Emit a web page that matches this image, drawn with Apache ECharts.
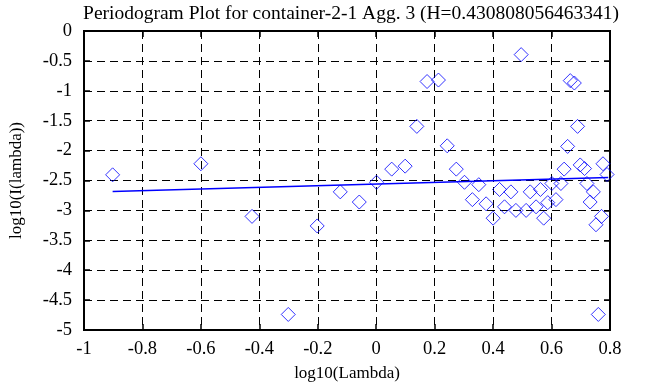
<!DOCTYPE html>
<html><head><meta charset="utf-8">
<script src="https://cdn.jsdelivr.net/npm/echarts@6/dist/echarts.min.js"></script>
<style>html,body{margin:0;padding:0;background:#fff}#c{width:668px;height:387px}</style>
</head><body><div id="c"></div>
<script>
const titleText = 'Periodogram Plot for container-2-1 Agg. 3 (H=0.430808056463341)';
const xName = 'log10(Lambda)';
const yName = 'log10(I(lambda))';
const xTicks = [-1, -0.8, -0.6, -0.4, -0.2, 0, 0.2, 0.4, 0.6, 0.8];
const yTicks = [0, -0.5, -1, -1.5, -2, -2.5, -3, -3.5, -4, -4.5, -5];
const logLambda = [-0.902,-0.600,-0.425,-0.301,-0.202,-0.123,-0.058,0.001,0.053,0.099,0.139,0.174,0.213,0.243,0.274,0.302,0.329,0.351,0.376,0.400,0.422,0.439,0.461,0.478,0.496,0.513,0.527,0.547,0.562,0.573,0.587,0.601,0.615,0.632,0.643,0.655,0.664,0.678,0.689,0.698,0.713,0.721,0.732,0.743,0.752,0.760,0.771,0.776,0.790];
const logI = [-2.405,-2.22,-3.1,-4.74,-3.26,-2.69,-2.86,-2.53,-2.31,-2.26,-1.595,-0.845,-0.82,-1.92,-2.31,-2.53,-2.82,-2.57,-2.89,-3.13,-2.65,-2.94,-2.69,-3.0,-0.395,-3.0,-2.69,-2.94,-2.65,-3.13,-2.87,-2.55,-2.82,-2.55,-2.31,-1.93,-0.83,-0.87,-1.595,-2.24,-2.30,-2.55,-2.86,-2.69,-3.24,-4.74,-3.1,-2.22,-2.40];
const fitX = [-0.902, 0.794];
const fitY = [-2.685, -2.450];

const font = 'Liberation Serif, Times New Roman, serif';
const chart = echarts.init(document.getElementById('c'));
const xAxisBase = {type:'value', min:-1, max:0.8, interval:0.2};
const yAxisBase = {type:'value', min:-5, max:0, interval:0.5};
const fmt = v => String(Math.round(v*10)/10);
const boxLine = {show:true, onZero:false, lineStyle:{color:'#000', width:2}};
const tick = {show:true, inside:true, length:6, lineStyle:{color:'#000', width:1.5}};
const grid = {show:true, lineStyle:{color:'#000', type:[8,5], width:1}};
chart.setOption({
  animation:false,
  backgroundColor:'#fff',
  title:{text:titleText, left:346, top:-1, textAlign:'center',
    textStyle:{fontFamily:font, fontSize:19.5, fontWeight:'normal', color:'#000'}},
  grid:{left:82, right:58, top:31, bottom:56, show:true, borderColor:'#000', borderWidth:2},
  xAxis:[
    Object.assign({}, xAxisBase, {position:'bottom', name:xName, nameLocation:'middle', nameGap:35,
      nameTextStyle:{fontFamily:font, fontSize:17, color:'#000'},
      axisLine:boxLine, axisTick:tick,
      axisLabel:{fontFamily:font, fontSize:18.5, color:'#000', margin:10, formatter:fmt},
      splitLine:grid}),
    Object.assign({}, xAxisBase, {position:'top', axisLine:boxLine, axisTick:tick,
      axisLabel:{show:false}, splitLine:{show:false}})
  ],
  yAxis:[
    Object.assign({}, yAxisBase, {position:'left', name:yName, nameLocation:'middle', nameGap:59,
      nameTextStyle:{fontFamily:font, fontSize:17, color:'#000'},
      axisLine:boxLine, axisTick:tick,
      axisLabel:{fontFamily:font, fontSize:18.5, color:'#000', margin:12, formatter:fmt},
      splitLine:grid}),
    Object.assign({}, yAxisBase, {position:'right', axisLine:boxLine, axisTick:tick,
      axisLabel:{show:false}, splitLine:{show:false}})
  ],
  series:[
    {type:'scatter', xAxisIndex:0, yAxisIndex:0, symbol:'diamond', symbolSize:[14,14],
      itemStyle:{color:'rgba(0,0,0,0)', borderColor:'#0000ff', borderWidth:1},
      data: logLambda.map((x,i)=>[x, logI[i]])},
    {type:'line', xAxisIndex:0, yAxisIndex:0, symbol:'none',
      lineStyle:{color:'#0000ff', width:1.5},
      data: fitX.map((x,i)=>[x, fitY[i]])}
  ]
});
</script></body></html>
